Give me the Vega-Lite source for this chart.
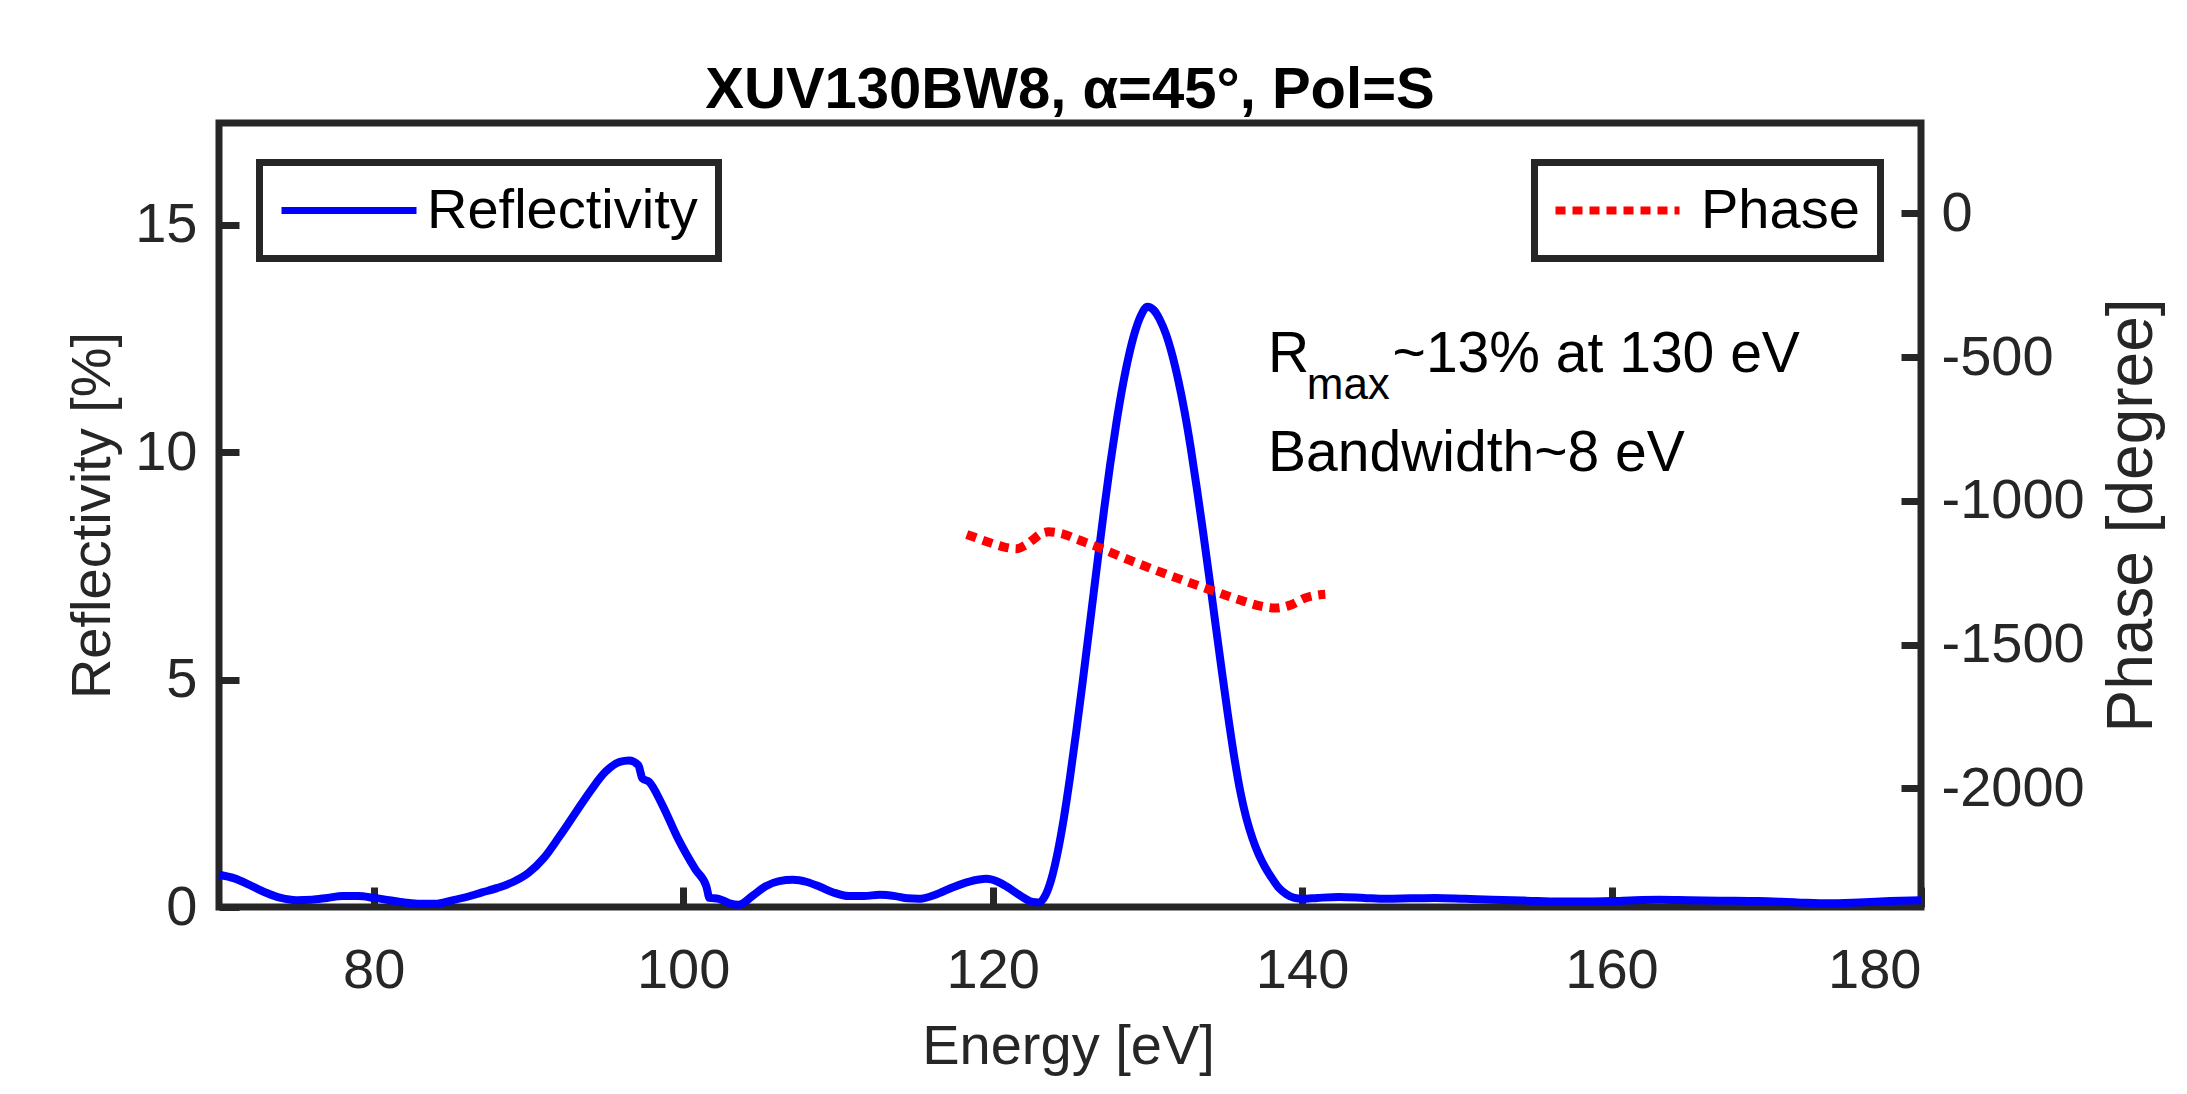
{
  "$schema": "https://vega.github.io/schema/vega-lite/v6.json",
  "width": 1702,
  "height": 784,
  "autosize": {"type": "none"},
  "padding": {"left": 219, "top": 123, "right": 266, "bottom": 187},
  "background": "white",
  "title": {"text": "XUV130BW8, α=45°, Pol=S", "fontSize": 58, "fontWeight": "bold", "font": "Liberation Sans", "color": "#000000", "anchor": "middle", "baseline": "alphabetic", "offset": 12, "dy": 55},
  "datasets": {
    "refl": [
      {"E": 70.0, "R": 0.71}, {"E": 71.0, "R": 0.63}, {"E": 72.0, "R": 0.48}, {"E": 73.0, "R": 0.32},
      {"E": 74.0, "R": 0.2}, {"E": 75.0, "R": 0.15}, {"E": 76.0, "R": 0.16}, {"E": 77.0, "R": 0.2},
      {"E": 78.0, "R": 0.24}, {"E": 79.0, "R": 0.24}, {"E": 80.0, "R": 0.2}, {"E": 81.0, "R": 0.15},
      {"E": 82.0, "R": 0.1}, {"E": 83.0, "R": 0.07}, {"E": 84.0, "R": 0.07}, {"E": 85.0, "R": 0.14},
      {"E": 86.0, "R": 0.22}, {"E": 87.0, "R": 0.32}, {"E": 88.0, "R": 0.42}, {"E": 89.0, "R": 0.55},
      {"E": 90.0, "R": 0.75}, {"E": 91.0, "R": 1.08}, {"E": 92.0, "R": 1.55}, {"E": 93.0, "R": 2.05},
      {"E": 94.0, "R": 2.55}, {"E": 95.0, "R": 2.98}, {"E": 95.9, "R": 3.19}, {"E": 96.5, "R": 3.22},
      {"E": 97.1, "R": 3.12}, {"E": 97.25, "R": 2.95}, {"E": 97.35, "R": 2.83}, {"E": 97.8, "R": 2.75},
      {"E": 98.6, "R": 2.28}, {"E": 99.7, "R": 1.48}, {"E": 100.8, "R": 0.82}, {"E": 101.5, "R": 0.45},
      {"E": 101.7, "R": 0.2}, {"E": 102.3, "R": 0.18}, {"E": 103.0, "R": 0.08}, {"E": 103.6, "R": 0.05},
      {"E": 104.5, "R": 0.25}, {"E": 105.3, "R": 0.45}, {"E": 106.2, "R": 0.57}, {"E": 107.1, "R": 0.6},
      {"E": 108.0, "R": 0.55}, {"E": 108.8, "R": 0.45}, {"E": 109.7, "R": 0.32}, {"E": 110.7, "R": 0.24},
      {"E": 111.7, "R": 0.24}, {"E": 112.7, "R": 0.27}, {"E": 113.7, "R": 0.24}, {"E": 114.5, "R": 0.19},
      {"E": 115.2, "R": 0.18}, {"E": 116.3, "R": 0.27}, {"E": 117.4, "R": 0.43}, {"E": 118.5, "R": 0.56},
      {"E": 119.6, "R": 0.62}, {"E": 120.3, "R": 0.56}, {"E": 120.9, "R": 0.45}, {"E": 121.7, "R": 0.27},
      {"E": 122.5, "R": 0.12}, {"E": 123.0, "R": 0.1}, {"E": 123.4, "R": 0.25}, {"E": 123.8, "R": 0.62},
      {"E": 124.2, "R": 1.2}, {"E": 124.6, "R": 1.95}, {"E": 125.0, "R": 2.85}, {"E": 125.4, "R": 3.85},
      {"E": 125.8, "R": 4.9}, {"E": 126.0, "R": 5.45}, {"E": 126.4, "R": 6.55}, {"E": 126.8, "R": 7.65},
      {"E": 127.2, "R": 8.73}, {"E": 127.6, "R": 9.74}, {"E": 128.0, "R": 10.65}, {"E": 128.4, "R": 11.45},
      {"E": 128.8, "R": 12.12}, {"E": 129.2, "R": 12.65}, {"E": 129.6, "R": 13.02}, {"E": 130.0, "R": 13.2},
      {"E": 130.4, "R": 13.13}, {"E": 130.8, "R": 12.92}, {"E": 131.2, "R": 12.6}, {"E": 131.6, "R": 12.15},
      {"E": 132.0, "R": 11.58}, {"E": 132.4, "R": 10.9}, {"E": 132.8, "R": 10.1}, {"E": 133.2, "R": 9.2},
      {"E": 133.6, "R": 8.25}, {"E": 134.0, "R": 7.25}, {"E": 134.4, "R": 6.23}, {"E": 134.8, "R": 5.22},
      {"E": 135.2, "R": 4.24}, {"E": 135.6, "R": 3.33}, {"E": 136.0, "R": 2.55}, {"E": 136.4, "R": 1.95},
      {"E": 136.8, "R": 1.5}, {"E": 137.2, "R": 1.15}, {"E": 137.6, "R": 0.88}, {"E": 138.0, "R": 0.66},
      {"E": 138.5, "R": 0.42}, {"E": 139.0, "R": 0.28}, {"E": 139.5, "R": 0.2}, {"E": 140.0, "R": 0.18},
      {"E": 141.0, "R": 0.2}, {"E": 142.4, "R": 0.22},
      {"E": 144.0, "R": 0.2}, {"E": 145.4, "R": 0.18}, {"E": 147.0, "R": 0.19}, {"E": 148.6, "R": 0.2},
      {"E": 150.5, "R": 0.18}, {"E": 152.3, "R": 0.16}, {"E": 154.5, "R": 0.14}, {"E": 156.6, "R": 0.12},
      {"E": 158.5, "R": 0.12}, {"E": 160.0, "R": 0.13}, {"E": 161.5, "R": 0.15}, {"E": 163.1, "R": 0.16},
      {"E": 165.0, "R": 0.15}, {"E": 167.0, "R": 0.14}, {"E": 169.5, "R": 0.13}, {"E": 172.0, "R": 0.1},
      {"E": 174.0, "R": 0.08}, {"E": 176.0, "R": 0.1}, {"E": 178.0, "R": 0.13}, {"E": 180.0, "R": 0.15}
    ],
    "phase": [
      {"E": 118.33, "P": -1117}, {"E": 119.0, "P": -1130}, {"E": 119.84, "P": -1146}, {"E": 120.7, "P": -1160},
      {"E": 121.56, "P": -1167}, {"E": 122.1, "P": -1155}, {"E": 122.64, "P": -1134}, {"E": 123.1, "P": -1115},
      {"E": 123.61, "P": -1108}, {"E": 124.58, "P": -1116}, {"E": 125.5, "P": -1135}, {"E": 126.52, "P": -1155},
      {"E": 128.46, "P": -1198}, {"E": 130.4, "P": -1239}, {"E": 132.34, "P": -1277}, {"E": 134.28, "P": -1314},
      {"E": 136.2, "P": -1349}, {"E": 137.3, "P": -1366}, {"E": 138.26, "P": -1373}, {"E": 139.23, "P": -1363},
      {"E": 140.2, "P": -1338}, {"E": 141.28, "P": -1326}, {"E": 141.5, "P": -1325}
    ],
    "notes": [
      {"E": 137.8, "R": 11.77, "label": "R"},
      {"E": 145.85, "R": 11.77, "label": "~13% at 130 eV"},
      {"E": 137.8, "R": 9.58, "label": "Bandwidth~8 eV"}
    ],
    "sub": [
      {"E": 140.3, "R": 11.16, "label": "max"}
    ]
  },
  "encoding": {
    "x": {
      "field": "E", "type": "quantitative",
      "scale": {"domain": [70, 180], "nice": false, "zero": false},
      "axis": {"title": "Energy [eV]", "values": [80, 100, 120, 140, 160, 180], "labelPadding": 56, "titleX": 849, "titleY": 156, "titleBaseline": "alphabetic", "titleAnchor": "middle"}
    }
  },
  "layer": [
    {
      "data": {"name": "refl"},
      "mark": {"type": "line", "strokeWidth": 8, "interpolate": "monotone", "strokeCap": "butt", "strokeJoin": "round"},
      "encoding": {
        "y": {
          "field": "R", "type": "quantitative",
          "scale": {"domain": [0, 17.24], "nice": false, "zero": false},
          "axis": {"title": "Reflectivity [%]", "values": [0, 5, 10, 15], "labelPadding": 42, "titleAngle": 270, "titleX": -127, "titleY": 392, "titleBaseline": "middle", "titleAlign": "center"}
        },
        "color": {
          "datum": "Reflectivity",
          "scale": {"range": ["#0000ff"]},
          "legend": {"title": null, "orient": "none", "legendX": 40.5, "legendY": 39.5, "symbolType": "M-26,0H109", "symbolSize": 4, "symbolStrokeWidth": 7, "symbolStrokeColor": "#0000ff", "labelOffset": 91.5, "padding": 20, "strokeColor": "#262626", "fillColor": "#ffffff", "labelFontSize": 56, "labelColor": "#000000", "labelFont": "Liberation Sans", "labelLimit": 0}
        }
      }
    },
    {
      "data": {"name": "phase"},
      "mark": {"type": "line", "strokeWidth": 9, "color": "#ff0000", "interpolate": "monotone", "strokeCap": "butt"},
      "encoding": {
        "y": {
          "field": "P", "type": "quantitative",
          "scale": {"domain": [-2413, 314], "nice": false, "zero": false},
          "axis": {"orient": "right", "title": "Phase [degree]", "values": [-2000, -1500, -1000, -500, 0], "labelExpr": "'' + datum.value", "labelPadding": 40, "titleAngle": 270, "titleX": 211, "titleY": 392, "titleFontSize": 64, "titleBaseline": "middle", "titleAlign": "center"}
        },
        "strokeDash": {
          "datum": "Phase",
          "scale": {"range": [[10, 7]]},
          "legend": {"title": null, "orient": "none", "legendX": 1315.5, "legendY": 39.5, "symbolType": "M-27,0H97", "symbolSize": 4, "symbolStrokeWidth": 8, "symbolStrokeColor": "#ff0000", "labelOffset": 90.5, "padding": 20, "strokeColor": "#262626", "fillColor": "#ffffff", "labelFontSize": 56, "labelColor": "#000000", "labelFont": "Liberation Sans", "labelLimit": 0}
        }
      }
    },
    {
      "data": {"name": "notes"},
      "mark": {"type": "text", "fontSize": 57, "font": "Liberation Sans", "align": "left", "baseline": "alphabetic", "color": "#000000"},
      "encoding": {
        "y": {"field": "R", "type": "quantitative", "scale": {"domain": [0, 17.24], "nice": false, "zero": false}, "axis": null},
        "text": {"field": "label"}
      }
    },
    {
      "data": {"name": "sub"},
      "mark": {"type": "text", "fontSize": 44, "font": "Liberation Sans", "align": "left", "baseline": "alphabetic", "color": "#000000"},
      "encoding": {
        "y": {"field": "R", "type": "quantitative", "scale": {"domain": [0, 17.24], "nice": false, "zero": false}, "axis": null},
        "text": {"field": "label"}
      }
    }
  ],
  "resolve": {"scale": {"y": "independent"}},
  "config": {
    "font": "Liberation Sans",
    "view": {"stroke": "#262626", "strokeWidth": 7},
    "axis": {
      "grid": false, "domain": false,
      "labelFont": "Liberation Sans", "labelFontSize": 56, "labelColor": "#262626",
      "tickColor": "#262626", "tickWidth": 7, "tickSize": -20,
      "titleFont": "Liberation Sans", "titleFontSize": 56, "titleColor": "#262626", "titleFontWeight": "normal"
    },
    "legend": {"strokeWidth": 7}
  }
}
